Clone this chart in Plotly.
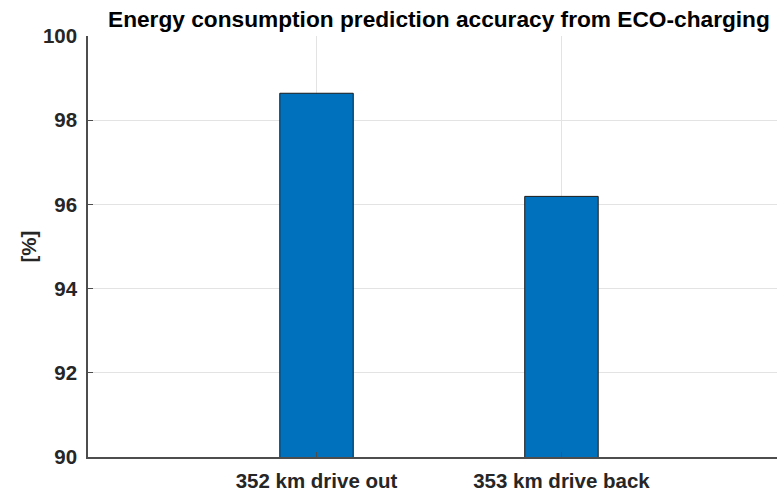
import plotly.graph_objects as go

categories = ["352 km drive out", "353 km drive back"]
positions = [1, 2]
accuracy = [98.64, 96.19]
y_ticks = [90, 92, 94, 96, 98, 100]

fig = go.Figure()
fig.add_trace(go.Bar(
    x=positions, y=accuracy, width=0.3, base=0,
    marker=dict(color="#0072BD", line=dict(color="#1a1a1a", width=1)),
    hoverinfo="skip",
))

FAM = "Liberation Sans, Arial, sans-serif"
font_bold = dict(family=FAM, size=20.5, color="#262626")

fig.update_layout(
    width=777, height=492,
    margin=dict(l=88, r=0, t=36, b=35, pad=0),
    paper_bgcolor="white", plot_bgcolor="white",
    showlegend=False,
    xaxis=dict(range=[0.067, 2.88], tickvals=positions,
               ticktext=["<b>%s</b>" % c for c in categories],
               ticks="inside", ticklen=5, tickcolor="#4d4d4d",
               showgrid=True, gridcolor="#e3e3e3", gridwidth=1,
               showline=True, linecolor="#4d4d4d", linewidth=1.5,
               zeroline=False, tickfont=font_bold, automargin=False,
               ticklabelstandoff=5),
    yaxis=dict(range=[90, 100], tickvals=y_ticks,
               ticktext=["<b>%d</b>" % v for v in y_ticks],
               ticks="inside", ticklen=5, tickcolor="#4d4d4d",
               showgrid=True, gridcolor="#e3e3e3", gridwidth=1,
               showline=True, linecolor="#4d4d4d", linewidth=1.5,
               zeroline=False, tickfont=font_bold, automargin=False,
               ticklabelstandoff=5),
    annotations=[
        dict(text="<b>Energy consumption prediction accuracy from ECO-charging</b>",
             xref="paper", yref="paper", x=(439 - 88) / 689, y=1, yshift=2,
             xanchor="center", yanchor="bottom", showarrow=False,
             font=dict(family=FAM, size=22.7, color="#000000")),
        dict(text="<b>[%]</b>", xref="paper", yref="paper",
             x=0, xshift=-60, y=0.5, textangle=-90,
             xanchor="center", yanchor="middle", showarrow=False,
             font=font_bold),
    ],
)

fig.write_html("out.html", config={"displayModeBar": False},
               post_script="document.body.style.margin='0';document.body.style.padding='0';")
